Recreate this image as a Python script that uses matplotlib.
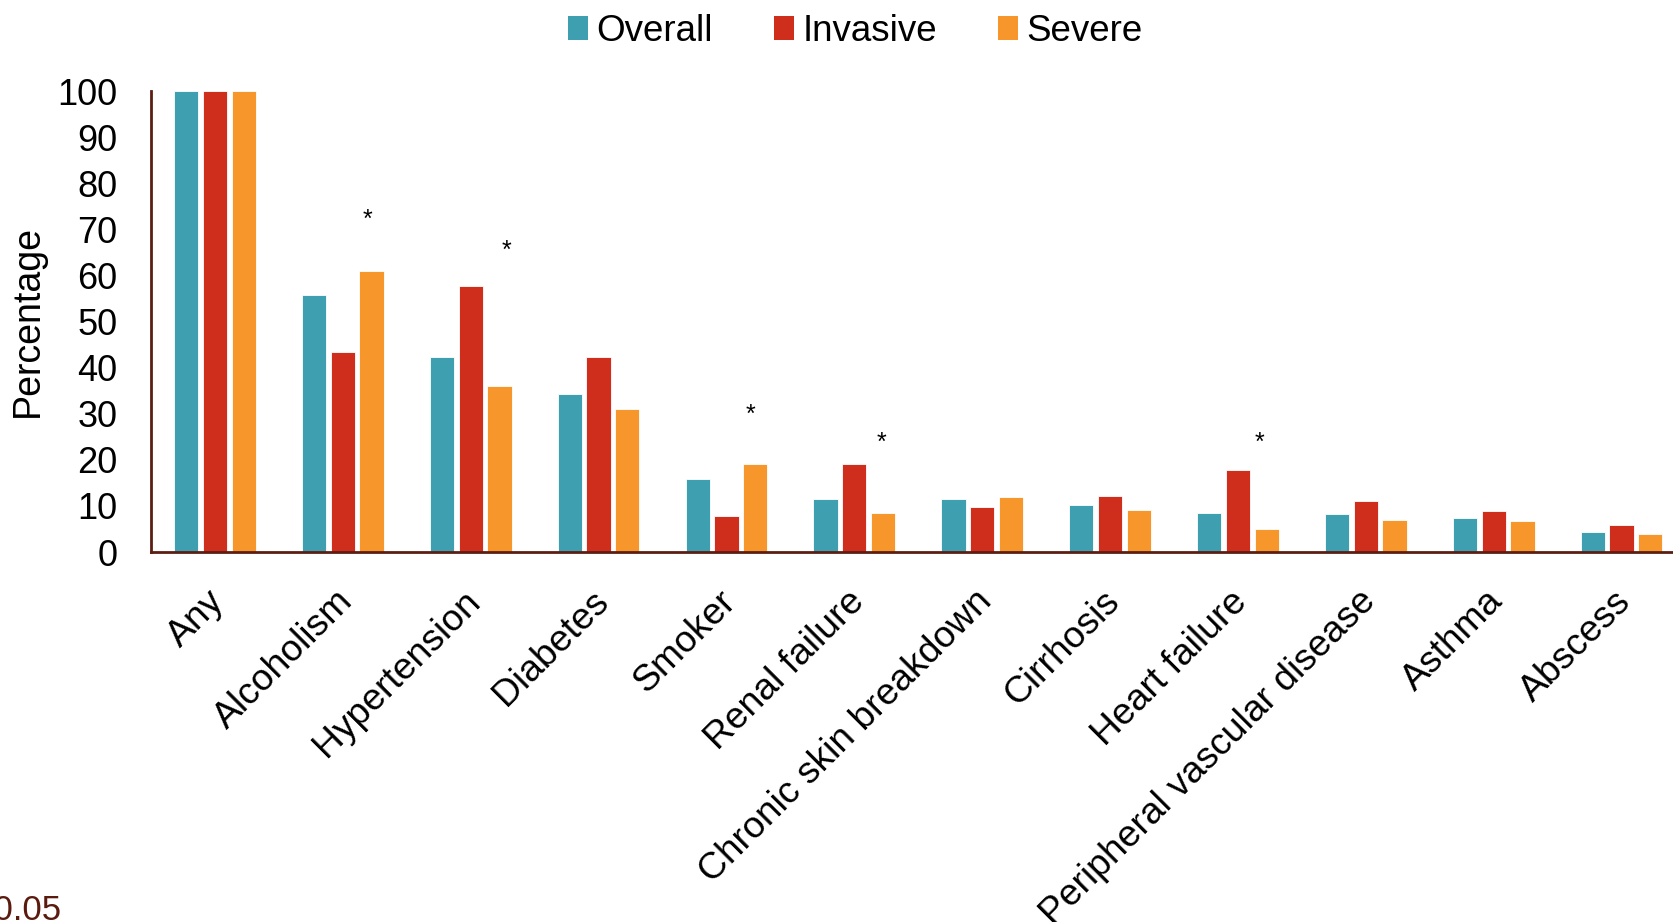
import matplotlib
matplotlib.use("Agg")
import matplotlib.pyplot as plt
import matplotlib.transforms as mtransforms
from matplotlib.patches import Patch
import numpy as np

plt.rcParams["font.family"] = ["Liberation Sans", "DejaVu Sans"]

categories = ["Any", "Alcoholism", "Hypertension", "Diabetes", "Smoker",
              "Renal failure", "Chronic skin breakdown", "Cirrhosis",
              "Heart failure", "Peripheral vascular disease", "Asthma", "Abscess"]
overall = [100, 55.8, 42.2, 34.2, 15.8, 11.4, 11.4, 10.2, 8.5, 8.2, 7.3, 4.4]
invasive = [100, 43.3, 57.8, 42.2, 7.8, 19.1, 9.8, 12.1, 17.7, 11.1, 8.9, 5.8]
severe = [100, 60.9, 36.1, 31.1, 19.1, 8.4, 11.9, 9.2, 4.9, 7.0, 6.8, 4.0]
series_names = ["Overall", "Invasive", "Severe"]
significant = ["Alcoholism", "Hypertension", "Smoker", "Renal failure", "Heart failure"]
y_ticks = list(range(0, 101, 10))

colors = ["#3E9FB0", "#CF2E1D", "#F7962A"]
axis_color = "#5C1E12"

# asterisk placement (x offset from group centre, height in axis units)
star_layout = {"Alcoholism": (0.19, 72.0), "Hypertension": (0.28, 65.4),
               "Smoker": (0.19, 29.8), "Renal failure": (0.21, 23.6),
               "Heart failure": (0.17, 23.6)}

fig = plt.figure(figsize=(16.74, 9.22), dpi=100)
ax = fig.add_axes([0.0902, 0.4013, 0.9098, 0.5000])

x = np.arange(len(categories))
width = 0.19
step = 0.225
for k, (vals, col) in enumerate(zip([overall, invasive, severe], colors)):
    ax.bar(x + (k - 1) * step, vals, width=width, color=col,
           edgecolor="white", linewidth=0.6, zorder=2)

for name in significant:
    i = categories.index(name)
    dx, hy = star_layout[name]
    ax.text(i + dx, hy, "*", ha="center", va="center", fontsize=18, color="black")

ax.set_xlim(-0.5, 11.41)
ax.set_ylim(0, 100)
ax.set_yticks(y_ticks)
ax.tick_params(axis="y", length=0, pad=24, labelsize=26)
ax.tick_params(axis="x", length=0, pad=23, labelsize=26.8)
ax.set_xticks(x)
ax.set_xticklabels(categories, rotation=45, ha="right", rotation_mode="anchor")
shift = mtransforms.ScaledTranslation(-8 / 100, 0, fig.dpi_scale_trans)
for lab in ax.get_xticklabels():
    lab.set_transform(lab.get_transform() + shift)

for side in ["top", "right"]:
    ax.spines[side].set_visible(False)
for side in ["left", "bottom"]:
    ax.spines[side].set_color(axis_color)
    ax.spines[side].set_linewidth(2)

fig.text(28 / 1674, 1 - 321 / 922, "Percentage", rotation=90, ha="center",
         va="center", fontsize=27)

handles = [Patch(facecolor=c, edgecolor="none") for c in colors]
fig.legend(handles, series_names, loc="center", bbox_to_anchor=(0.511, 0.966),
           ncol=3, frameon=False, fontsize=26.5, handlelength=0.55,
           handleheight=0.65, handletextpad=0.22, columnspacing=1.66,
           borderaxespad=0, borderpad=0)

fig.text(61 / 1674, 2 / 922, "*p < 0.05", ha="right", va="baseline",
         fontsize=25, color="#5A1A0E")

fig.savefig("out.png", dpi=100)
